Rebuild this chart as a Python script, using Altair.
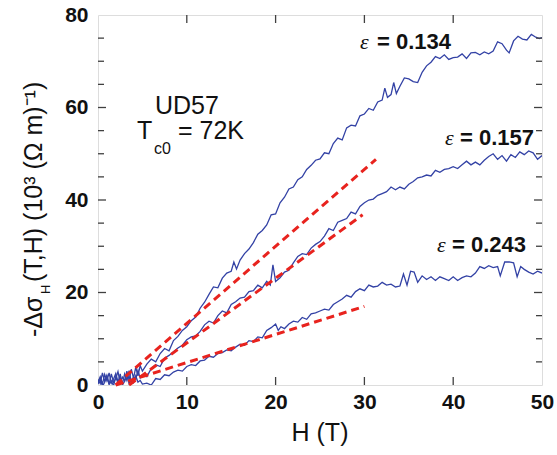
import altair as alt
import pandas as pd

# Hall conductivity magnetoresistance curves, -Δσ_H vs H, sample UD57
H_A = [0, 0.25, 0.5, 0.75, 1, 1.25, 1.5, 1.75, 2, 2.25, 2.5, 2.75, 3, 3.25, 3.5, 3.75, 4, 4.25, 4.5, 4.75, 5,
       5.5, 6, 6.5, 7, 7.5, 8, 8.5, 9, 9.5, 10, 10.5, 11, 11.5, 12, 12.5, 13, 13.5, 14, 14.5, 15, 15.3, 15.6,
       16, 16.5, 17, 17.5, 18, 18.5, 19, 19.5, 20, 20.5, 21, 21.5, 22, 22.5, 23, 23.5, 24, 24.5, 25, 25.5,
       26, 26.5, 27, 27.5, 28, 28.5, 29, 29.5, 30, 30.5, 31, 31.5, 32, 32.3, 32.6, 33, 33.3, 33.6, 34, 34.5,
       35, 35.5, 36, 36.5, 37, 37.5, 38, 38.5, 39, 39.5, 40, 40.5, 41, 41.5, 42, 42.5, 43, 43.5, 44, 44.5,
       45, 45.5, 46, 46.3, 46.8, 47.3, 47.8, 48.3, 48.8, 49.3, 49.7, 50]
V_A = [1.2, 0.3, 2.6, 0.8, 1.9, 0.2, 2.4, 0.6, 1.4, 2.9, 0.5, 1.7, 0.9, 3.0, 1.1, 3.4, 1.5, 3.8, 2.0, 4.2, 3.0,
       4.5, 5.6, 5.0, 6.8, 7.9, 7.4, 9.6, 10.5, 11.8, 12.6, 13.9, 14.7, 16.6, 17.9, 19.6, 21.2, 21.0, 23.1,
       24.2, 24.6, 26.6, 25.1, 27.0, 28.4, 29.4, 30.8, 32.6, 33.4, 34.6, 36.8, 37.0, 39.4, 40.6, 42.4, 42.8,
       44.4, 45.0, 46.6, 47.5, 48.6, 48.9, 50.2, 50.0, 52.2, 53.4, 53.0, 55.6, 56.2, 56.0, 58.2, 58.6, 59.8,
       59.4, 61.2, 61.6, 64.2, 62.2, 62.8, 65.4, 63.0, 64.6, 66.4, 66.2, 65.6, 65.4, 67.6, 69.0, 69.8, 71.0,
       70.6, 71.4, 70.4, 70.8, 70.9, 71.6, 70.6, 71.8, 71.9, 71.4, 72.0, 71.6, 72.2, 74.2, 73.8, 72.4, 71.8,
       74.4, 75.4, 74.8, 74.6, 75.8, 75.2, 74.9, 75.1]

H_B = [0, 0.25, 0.5, 0.75, 1, 1.25, 1.5, 1.75, 2, 2.25, 2.5, 2.75, 3, 3.25, 3.5, 3.75, 4, 4.25, 4.5, 4.75, 5,
       5.5, 6, 6.5, 7, 7.5, 8, 8.5, 9, 9.5, 10, 10.5, 11, 11.5, 12, 12.5, 13, 13.5, 14, 14.5, 15, 15.5, 16,
       16.5, 17, 17.5, 18, 18.5, 19, 19.4, 19.7, 20, 20.5, 21, 21.5, 22, 22.5, 23, 23.5, 24, 24.5, 25, 25.5,
       26, 26.5, 27, 27.5, 28, 28.5, 29, 29.5, 30, 30.5, 31, 31.5, 32, 32.5, 33, 33.5, 34, 34.5, 35, 35.5,
       36, 36.5, 37, 37.5, 38, 38.5, 39, 39.5, 40, 40.5, 41, 41.5, 42, 42.5, 43, 43.5, 44, 44.5, 45, 45.5,
       46, 46.5, 47, 47.5, 48, 48.5, 49, 49.5, 50]
V_B = [0.6, 1.8, 0.2, 2.3, 0.9, 2.6, 0.4, 1.3, 2.5, 0.7, 1.6, 0.3, 2.4, 1.0, 3.1, 0.6, 1.8, 1.2, 3.2, 1.5, 2.2,
       1.8, 3.6, 4.4, 4.0, 5.8, 6.4, 7.2, 8.0, 8.6, 9.8, 10.4, 10.6, 11.6, 13.0, 13.8, 13.4, 15.0, 16.0, 15.6,
       17.4, 18.0, 18.8, 19.0, 20.2, 20.4, 21.6, 21.0, 22.4, 21.6, 26.0, 22.4, 23.2, 24.4, 24.8, 26.4, 27.8,
       28.4, 28.2, 29.6, 30.4, 31.0, 32.2, 33.8, 33.4, 35.2, 35.6, 36.0, 37.4, 37.0, 38.6, 39.4, 40.0, 40.2,
       41.0, 41.4, 41.8, 42.8, 42.2, 42.8, 42.4, 43.4, 44.0, 44.8, 45.0, 45.4, 45.2, 46.4, 46.0, 46.6, 46.8,
       47.2, 46.8, 47.6, 48.4, 47.6, 48.2, 47.6, 48.6, 49.4, 50.0, 48.8, 49.6, 48.4, 49.8, 49.2, 50.4, 49.8,
       50.6, 50.2, 48.8, 49.6]

H_C = [0, 0.25, 0.5, 0.75, 1, 1.25, 1.5, 1.75, 2, 2.25, 2.5, 2.75, 3, 3.25, 3.5, 3.75, 4, 4.25, 4.5, 4.75, 5,
       5.5, 6, 6.5, 7, 7.5, 8, 8.5, 9, 9.5, 10, 10.5, 11, 11.5, 12, 12.5, 13, 13.5, 14, 14.5, 15, 15.5, 16,
       16.5, 17, 17.5, 18, 18.5, 19, 19.5, 20, 20.3, 20.6, 21, 21.5, 22, 22.5, 23, 23.5, 24, 24.5, 25, 25.5,
       26, 26.5, 27, 27.5, 28, 28.5, 29, 29.5, 30, 30.5, 31, 31.5, 32, 32.5, 33, 33.5, 34, 34.4, 34.8, 35.2,
       35.6, 36, 36.5, 37, 37.5, 38, 38.5, 39, 39.5, 40, 40.5, 41, 41.5, 42, 42.5, 43, 43.5, 44, 44.5, 45,
       45.3, 45.8, 46.3, 46.8, 47.2, 47.6, 48, 48.5, 49, 49.5, 50]
V_C = [0.2, 1.4, -0.3, 0.6, 2.1, 0.1, 0.9, -0.2, 1.8, 0.4, 2.4, 0.0, 0.8, 2.2, 0.3, 1.1, 0.5, 2.0, 0.6, 1.0, 0.2,
       0.4, 0.0, 1.4, 1.2, 2.2, 2.0, 2.8, 3.2, 3.0, 4.0, 4.4, 4.2, 5.2, 5.4, 6.2, 6.0, 6.8, 7.0, 7.6, 7.4, 8.2,
       8.8, 8.6, 9.6, 9.4, 10.4, 10.2, 11.8, 12.4, 13.2, 11.8, 12.6, 12.2, 13.2, 13.8, 13.6, 14.6, 14.2, 15.4,
       15.6, 16.0, 16.4, 16.2, 17.4, 18.0, 18.6, 19.4, 19.0, 20.2, 20.8, 20.4, 21.6, 21.2, 21.4, 22.2, 21.6,
       21.8, 21.2, 21.4, 24.0, 21.6, 24.6, 24.4, 22.2, 23.6, 22.8, 23.4, 22.6, 23.4, 23.0, 22.6, 23.4, 22.6,
       23.2, 23.6, 23.4, 24.2, 25.6, 25.2, 25.8, 25.4, 25.6, 23.6, 26.6, 26.6, 26.4, 23.4, 25.6, 25.0, 24.4,
       24.0, 24.6, 24.2]

# Straight-line fits (start and end points)
FIT_SERIES = ["0.134", "0.157", "0.243"]
FIT_H = [[2.0, 31.3], [3.5, 29.8], [2.0, 30.0]]
FIT_V = [[0.0, 48.8], [0.0, 36.8], [0.0, 17.0]]

X_LABELS = [0, 10, 20, 30, 40, 50]
Y_LABELS = [0, 20, 40, 60, 80]
X_TICKS = [10, 20, 30, 40]
Y_MAJOR = [20, 40, 60]
Y_MINOR = [5, 10, 15, 25, 30, 35, 45, 50, 55, 65, 70, 75]

rows = []
for name, hs, vs in [("0.134", H_A, V_A), ("0.157", H_B, V_B), ("0.243", H_C, V_C)]:
    for h, v in zip(hs, vs):
        rows.append({"series": name, "H": h, "val": v})
curves = pd.DataFrame(rows)

fit_rows = []
for name, hs, vs in zip(FIT_SERIES, FIT_H, FIT_V):
    for h, v in zip(hs, vs):
        fit_rows.append({"series": name, "H": h, "val": v})
fits = pd.DataFrame(fit_rows)

W, HGT = 444, 370
BLUE = "#3342a5"
RED = "#e8231e"
FRAME = "#404040"
FONT = "Liberation Sans"

xs = alt.Scale(domain=[0, 50], nice=False, zero=False)
ys = alt.Scale(domain=[0, 80], nice=False, zero=False)

# one axis definition per channel, shared by every layer so they merge cleanly
x_axis = alt.Axis(values=X_LABELS, ticks=False, domain=False, grid=False, title=None,
                  labelFont=FONT, labelFontSize=21, labelFontWeight="bold", labelColor="#111",
                  labelPadding=6, labelFlush=False)
y_axis = alt.Axis(values=Y_LABELS, ticks=False, domain=False, grid=False, title=None,
                  labelFont=FONT, labelFontSize=21, labelFontWeight="bold", labelColor="#111",
                  labelPadding=10, labelFlush=False)

blue = alt.Chart(curves).mark_line(color=BLUE, strokeWidth=1.3, clip=True).encode(
    x=alt.X("H:Q", scale=xs, axis=x_axis),
    y=alt.Y("val:Q", scale=ys, axis=y_axis),
    detail="series:N",
)

red = alt.Chart(fits).mark_line(color=RED, strokeWidth=3, strokeDash=[8, 5]).encode(
    x=alt.X("H:Q", scale=xs, axis=x_axis),
    y=alt.Y("val:Q", scale=ys, axis=y_axis),
    detail="series:N",
)


def yticks(vals, x0, x1):
    return alt.Chart(pd.DataFrame({"val": vals})).mark_rule(color=FRAME, strokeWidth=1.3).encode(
        y=alt.Y("val:Q", scale=ys, axis=y_axis), x=alt.value(x0), x2=alt.value(x1))


def xticks(vals, y0, y1):
    return alt.Chart(pd.DataFrame({"H": vals})).mark_rule(color=FRAME, strokeWidth=1.3).encode(
        x=alt.X("H:Q", scale=xs, axis=x_axis), y=alt.value(y0), y2=alt.value(y1))


ticks = [
    yticks(Y_MAJOR, 0, 8), yticks(Y_MINOR, 0, 6),
    yticks(Y_MAJOR, W - 8, W), yticks(Y_MINOR, W - 6, W),
    xticks(X_TICKS, 0, 8), xticks(X_TICKS, HGT - 8, HGT),
]


def label(text, x, y, size, weight="normal", style="normal", angle=0, font=FONT, align="left"):
    return alt.Chart(pd.DataFrame({"t": [text]})).mark_text(
        align=align, baseline="alphabetic", font=font, fontSize=size,
        fontWeight=weight, fontStyle=style, angle=angle, color="#111",
    ).encode(x=alt.value(x), y=alt.value(y), text="t:N")


texts = [
    # x-axis title
    label("H (T)", W / 2, 426, 25, align="center"),
    # rotated y-axis title, built from pieces for the subscript
    label("-Δσ", -56, 322, 25, angle=270),
    label("H", -48, 279, 13, angle=270),
    label("(T,H) (10³ (Ω m)⁻¹)", -56, 267, 25, angle=270),
    # sample info
    label("UD57", 57, 99, 25),
    label("T", 39, 124, 25),
    label("c0", 56, 139, 16),
    label("= 72K", 80, 124, 25),
    # curve labels
    label("ε", 262, 34, 22, style="italic", font="Liberation Serif"),
    label("= 0.134", 279, 34, 22, weight="bold"),
    label("ε", 347, 130, 22, style="italic", font="Liberation Serif"),
    label("= 0.157", 362, 130, 22, weight="bold"),
    label("ε", 339, 237, 22, style="italic", font="Liberation Serif"),
    label("= 0.243", 354, 237, 22, weight="bold"),
]

chart = alt.layer(blue, red, *ticks, *texts).properties(
    width=W, height=HGT,
    autosize=alt.AutoSizeParams(type="none"),
    padding={"left": 98, "top": 15, "right": 15, "bottom": 70},
).configure_view(stroke=FRAME, strokeWidth=1.5).configure(background="white")

chart.save("out.html", embed_options={"renderer": "svg", "actions": False})
